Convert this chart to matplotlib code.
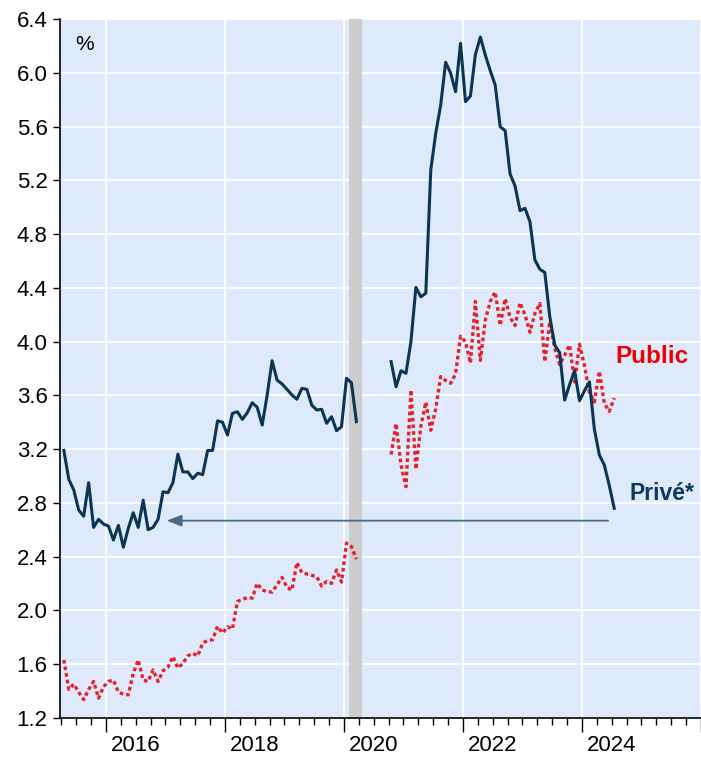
import matplotlib.pyplot as plt
import numpy as np

plt.rcParams['font.family'] = ['Liberation Sans', 'DejaVu Sans']

# monthly values, mid-month positions
# segment 1: Apr 2015 - Mar 2020, segment 2: Oct 2020 - Jul 2024
prive_1 = [3.19, 2.975, 2.895, 2.746, 2.70, 2.95, 2.617, 2.677, 2.642, 2.627,
           2.523, 2.632, 2.469, 2.61, 2.726, 2.617, 2.82, 2.60, 2.617, 2.677,
           2.882, 2.875, 2.95, 3.163, 3.03, 3.03, 2.98, 3.02, 3.01, 3.19,
           3.19, 3.41, 3.40, 3.305, 3.466, 3.478, 3.421, 3.471, 3.545, 3.511,
           3.379, 3.60, 3.858, 3.714, 3.685, 3.645, 3.603, 3.571, 3.652, 3.645,
           3.528, 3.491, 3.496, 3.392, 3.441, 3.337, 3.367, 3.727, 3.694, 3.404]
public_1 = [1.63, 1.41, 1.45, 1.39, 1.335, 1.41, 1.47, 1.345, 1.43, 1.47,
            1.48, 1.39, 1.375, 1.37, 1.53, 1.63, 1.48, 1.47, 1.555, 1.47,
            1.55, 1.575, 1.655, 1.57, 1.605, 1.66, 1.68, 1.66, 1.755, 1.775,
            1.78, 1.88, 1.83, 1.877, 1.86, 2.065, 2.08, 2.095, 2.09, 2.20,
            2.15, 2.14, 2.135, 2.19, 2.245, 2.17, 2.15, 2.355, 2.28, 2.27,
            2.26, 2.25, 2.18, 2.215, 2.20, 2.30, 2.21, 2.50, 2.475, 2.38]
prive_2 = [3.851, 3.664, 3.783, 3.764, 4.0, 4.404, 4.334, 4.36, 5.278, 5.551,
           5.762, 6.08, 6.0, 5.861, 6.221, 5.787, 5.829, 6.138, 6.268, 6.134,
           6.017, 5.91, 5.60, 5.571, 5.248, 5.159, 4.975, 4.993, 4.893, 4.608,
           4.539, 4.515, 4.186, 3.975, 3.917, 3.565, 3.68, 3.784, 3.56, 3.635,
           3.70, 3.347, 3.156, 3.081, 2.93, 2.759]
public_2 = [3.16, 3.39, 3.08, 2.92, 3.64, 3.05, 3.37, 3.55, 3.34, 3.50,
            3.74, 3.71, 3.69, 3.76, 4.04, 4.00, 3.84, 4.30, 3.86, 4.16,
            4.30, 4.37, 4.12, 4.32, 4.18, 4.12, 4.29, 4.20, 4.07, 4.21,
            4.285, 3.85, 4.15, 3.95, 3.83, 3.90, 3.975, 3.70, 3.98, 3.82,
            3.62, 3.55, 3.78, 3.54, 3.48, 3.58]
start_1 = 2015 + 3 / 12   # April 2015
start_2 = 2020 + 9 / 12   # October 2020
year_labels = ['2016', '2018', '2020', '2022', '2024']
recession = (2020 + 1 / 12, 2020.30)

x1 = start_1 + (np.arange(len(prive_1)) + 0.5) / 12
x2 = start_2 + (np.arange(len(prive_2)) + 0.5) / 12

navy = '#0b3553'
red = '#e8202a'

fig = plt.figure(figsize=(7.01, 7.57), dpi=100)
ax = fig.add_axes([60 / 701, 39.3 / 757, 641 / 701, 698.4 / 757])
ax.set_facecolor('#deeafb')

ax.axvspan(*recession, color='#cccccc', zorder=1.5, lw=0)

for xs, ys in [(x1, public_1), (x2, public_2)]:
    ax.plot(xs, ys, color=red, lw=2.4, linestyle=(0, (1.1, 0.9)), zorder=3)
for xs, ys in [(x1, prive_1), (x2, prive_2)]:
    ax.plot(xs, ys, color=navy, lw=2.2, zorder=4)

ax.annotate('', xy=(2017.02, 2.667), xytext=(2024.44, 2.667),
            arrowprops=dict(arrowstyle='-|>,head_length=0.9,head_width=0.35',
                            color='#4a6a88', lw=1.3, shrinkA=0, shrinkB=0),
            zorder=5)

ax.text(2025.18, 3.886, 'Public', color='#f00000', fontsize=17.5,
        fontweight='bold', ha='center', va='center')
ax.text(2024.80, 2.873, 'Privé*', color='#0b3a5a', fontsize=16.5,
        fontweight='bold', ha='left', va='center')
ax.text(0.039, 0.9646, '%', transform=ax.transAxes, fontsize=15,
        ha='center', va='center')

ax.set_xlim(2015.227, 2026.0)
ax.set_ylim(1.2, 6.4)
ax.set_yticks(np.arange(1.2, 6.41, 0.4))
ax.set_yticklabels([f'{v:.1f}' for v in np.arange(1.2, 6.41, 0.4)])
ax.set_xticks(np.arange(2016, 2027, 2))
ax.set_xticklabels([])
ax.set_xticks(np.arange(2015.25, 2026.01, 0.25), minor=True)
for i, lbl in enumerate(year_labels):
    ax.annotate(lbl, xy=(2016 + 2 * i + 0.5, 0),
                xycoords=('data', 'axes fraction'), xytext=(0, -17),
                textcoords='offset pixels', ha='center', va='top',
                fontsize=16)

ax.tick_params(axis='y', direction='out', length=5, width=1, pad=4,
               labelsize=16)
ax.tick_params(axis='x', which='major', direction='out', length=10, width=1)
ax.tick_params(axis='x', which='minor', direction='out', length=5, width=1)
ax.grid(True, which='major', color='white', lw=1.3, zorder=1)
ax.set_axisbelow(True)
for s in ['top', 'right']:
    ax.spines[s].set_visible(False)
for s in ['left', 'bottom']:
    ax.spines[s].set_linewidth(1.2)

fig.savefig('out.png', dpi=100)
